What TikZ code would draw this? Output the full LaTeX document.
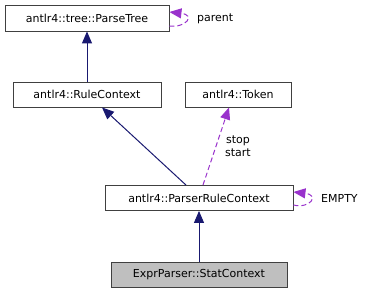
\documentclass[tikz,border=0pt]{standalone}
\usepackage{fontspec}
\setmainfont{DejaVu Sans}
\usetikzlibrary{arrows.meta,calc}
\definecolor{edgeblue}{RGB}{25,25,112}
\definecolor{edgepurple}{RGB}{153,50,204}
\definecolor{boxline}{RGB}{64,64,64}
\definecolor{curfill}{RGB}{191,191,191}
\begin{document}
\begin{tikzpicture}[x=1bp,y=-1bp,
  cls/.style={draw=boxline, line width=0.9bp, fill=white, inner sep=0pt,
    minimum height=25bp, font=\fontsize{11bp}{13bp}\selectfont, text=black},
  inherit/.style={draw=edgeblue, line width=1bp,
    -{Triangle[length=12bp,width=10bp]}},
  uses/.style={draw=edgepurple, line width=1bp, dashed, dash pattern=on 5bp off 3bp,
    -{Triangle[length=12bp,width=10bp]}},
  lbl/.style={font=\fontsize{11bp}{13bp}\selectfont, inner sep=0pt, text=black, align=center}]
  \useasboundingbox (0,0) rectangle (372,293);

  \node[cls, minimum width=164bp, minimum height=26bp] (pt) at (87,18) {antlr4::tree::ParseTree};
  \node[cls, minimum width=148bp] (rc) at (87,94.5) {antlr4::RuleContext};
  \node[cls, minimum width=106bp] (tok) at (238,94.5) {antlr4::Token};
  \node[cls, minimum width=188bp] (prc) at (199,198) {antlr4::ParserRuleContext};
  \node[cls, minimum width=176bp, fill=curfill] (sc) at (199,274.5) {ExprParser::StatContext};

  % inheritance
  \draw[inherit] (rc.north) -- (pt.south);
  \draw[inherit] ($(prc.north)+(-13,0)$) -- ($(rc.south)+(15,0)$);
  \draw[inherit] (sc.north) -- (prc.south);

  % members
  \draw[uses] ($(prc.north)+(4,0)$) -- ($(tok.south)+(-9,0)$);
  \node[lbl] (ss) at (238,146) {stop\\start};

  % self references
  \draw[uses] ($(pt.east)+(0,8)$) .. controls (186,28) and (196,15) .. ($(pt.east)+(0,-6)$);
  \node[lbl, anchor=west] (par) at (197,18.5) {parent};
  \draw[uses] ($(prc.east)+(0,7)$) .. controls (310,209) and (320,195) .. ($(prc.east)+(0,-6)$);
  \node[lbl, anchor=west] (em) at (321,198) {EMPTY};
\end{tikzpicture}
\end{document}
